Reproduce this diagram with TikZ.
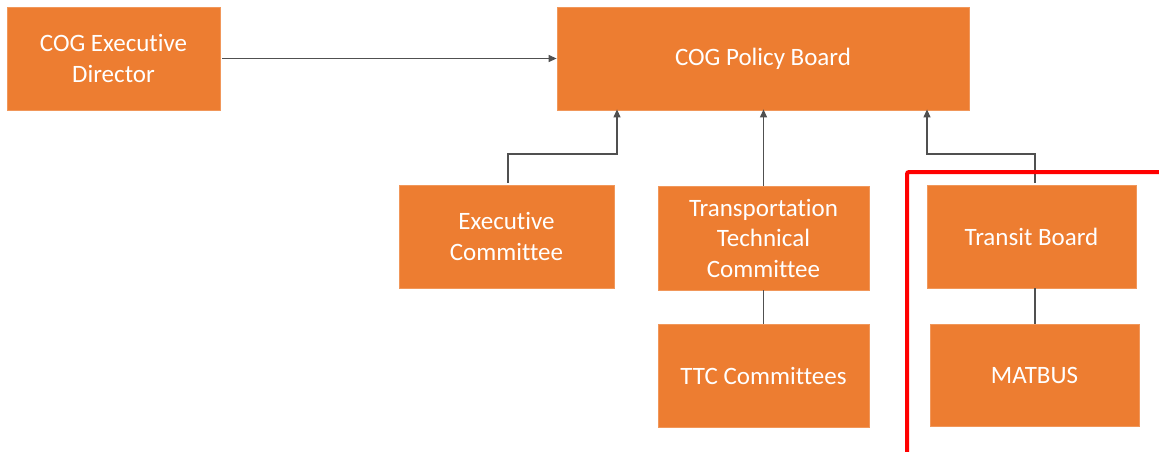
\documentclass[tikz,border=0pt]{standalone}
\usepackage{fontspec}
\setmainfont{Carlito}[Ligatures=NoCommon]
\usetikzlibrary{arrows.meta}
\definecolor{boxorange}{HTML}{ED7D31}
\definecolor{linegray}{HTML}{505050}
\definecolor{hlred}{HTML}{FF0000}
\tikzset{
  orgbox/.style={fill=boxorange, draw=boxorange!80!white, line width=0.8pt, text=white,
    font=\fontsize{25}{30.5}\selectfont, align=center, inner sep=0pt, anchor=center},
  conn/.style={draw=linegray, line width=1.2pt},
  arr/.style={conn, -{Triangle[length=8pt,width=7pt]}},
}
\begin{document}
\begin{tikzpicture}[x=1pt,y=-1pt]
\useasboundingbox (0,0) rectangle (1159,451);
\clip (0,0) rectangle (1159,451);
\fill[white] (0,0) rectangle (1159,451);

\node[orgbox, minimum width=213pt, minimum height=103pt] (ced) at (113.5,58.5) {COG Executive\\Director};
\node[orgbox, minimum width=412pt, minimum height=103pt] (pb) at (763,58.5) {COG Policy Board};
\node[orgbox, minimum width=215pt, minimum height=103pt] (ec) at (506.5,236.5) {Executive\\Committee};
\node[orgbox, minimum width=211pt, minimum height=104pt] (ttc) at (763.5,238) {Transportation\\Technical\\Committee};
\node[orgbox, minimum width=211pt, minimum height=103pt] (ttcc) at (763.5,375.5) {TTC Committees};
\node[orgbox, minimum width=209pt, minimum height=103pt] (tb) at (1031.5,236.5) {Transit Board};
\node[orgbox, minimum width=209pt, minimum height=102pt] (mat) at (1034.5,375) {MATBUS};

% connectors
\draw[arr] ([xshift=2pt]ced.east) -- (pb.west |- ced.east);
\coordinate (ecTop) at (508,183);
\draw[arr] (ecTop) -- (508,154) -- (617,154) -- ([yshift=1pt]pb.south -| 617,0);
\draw[arr] (ttc.north) -- ([yshift=1pt]pb.south -| ttc.north);
\draw[conn] (ttc.south) -- (ttcc.north -| ttc.south);
\coordinate (tbTop) at (1035,183);
\draw[arr] (tbTop) -- (1035,154) -- (927,154) -- ([yshift=1pt]pb.south -| 927,0);
\draw[conn] (tb.south -| 1035,0) -- (mat.north -| 1035,0);

% highlight frame
\node[draw=hlred, line width=4pt, rounded corners=2pt, minimum width=280pt, minimum height=300pt, anchor=north west, inner sep=0pt] (hl) at (905,170) {};
\end{tikzpicture}
\end{document}
